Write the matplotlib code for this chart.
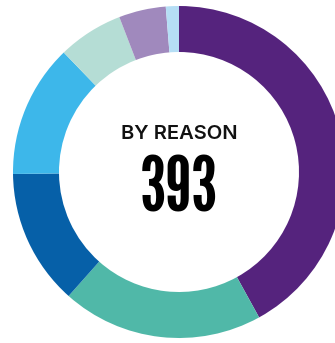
import matplotlib
matplotlib.use('Agg')
import matplotlib.pyplot as plt

# counts per reason, clockwise from 12 o'clock
counts = [165, 77, 52, 51, 25, 18, 5]
colors = ['#55237d', '#50b8a8', '#0660a8', '#3db7ea', '#b5ddd5', '#a089bd', '#b5def5']
title = 'BY REASON'
total = sum(counts)

W, H = 335, 343
fig = plt.figure(figsize=(W / 100, H / 100), dpi=100)
ax = fig.add_axes([0, 0, 1, 1])

ax.pie(counts, colors=colors, startangle=90, counterclock=False,
       center=(179, 171), radius=166, frame=True,
       wedgeprops=dict(width=46, linewidth=0))

ax.set_xlim(0, W)
ax.set_ylim(0, H)
ax.set_aspect('equal')
ax.axis('off')

ax.text(179, 203.7, title, ha='center', va='baseline', fontsize=14.5,
        family='Inter', weight=600, color='#111111')
ax.text(179, 131, str(total), ha='center', va='baseline', fontsize=54,
        family='League Gothic', color='black')

fig.savefig('out.png', dpi=100)
